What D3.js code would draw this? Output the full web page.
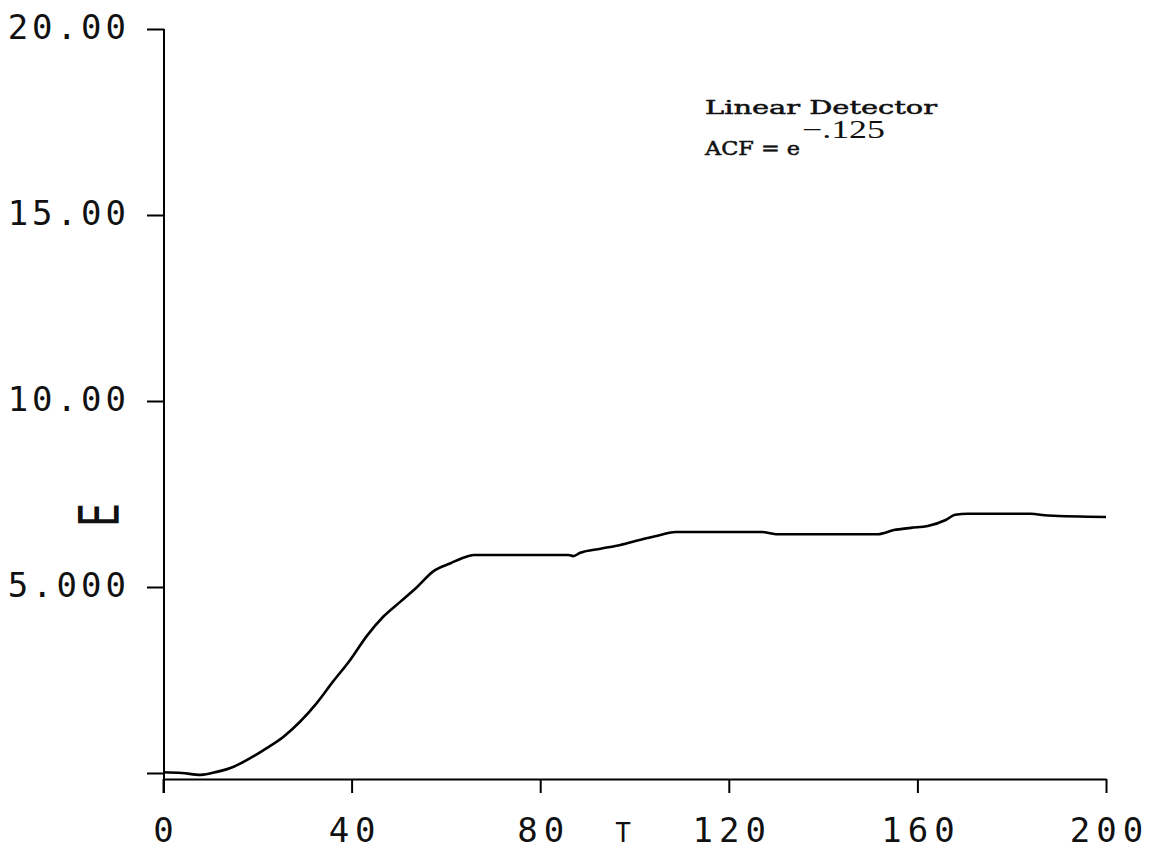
<!DOCTYPE html>
<html>
<head>
<meta charset="utf-8">
<script src="https://cdn.jsdelivr.net/npm/d3@7"></script>
<style>
  html, body { margin: 0; padding: 0; background: #fff; }
  svg { display: block; }
</style>
</head>
<body>
<svg id="chart" width="1155" height="849"></svg>
<script>
// ---- data ----
const tValues = [0, 4, 8, 11.4, 15, 18.5, 22, 25.5, 29, 32.6, 36, 39.7, 43.2, 46.7, 50.3, 53.9, 57.3, 61, 64.5, 66,
                 86, 87, 88.5, 92.8, 97, 101.3, 105.5, 108.7, 124.6, 127, 130, 151.6, 155, 158.6, 162.2, 166, 168, 170.7, 184, 187.7, 200];
const eValues = [0.02, 0.0, -0.05, 0.03, 0.17, 0.4, 0.67, 0.97, 1.37, 1.88, 2.45, 3.04, 3.68, 4.2, 4.6, 5.0, 5.42, 5.64, 5.82, 5.86,
                 5.86, 5.83, 5.92, 6.03, 6.13, 6.27, 6.4, 6.48, 6.48, 6.48, 6.42, 6.42, 6.53, 6.59, 6.64, 6.8, 6.94, 6.97, 6.97, 6.92, 6.88];
const xTicks = [0, 40, 80, 120, 160, 200];
const xTickLabels = ["0", "40", "80", "120", "160", "200"];
const yTicks = [0, 5, 10, 15, 20];
const yTickLabels = ["", "5.000", "10.00", "15.00", "20.00"];
const xTitle = "T";
const yTitle = "E";
const noteLine1 = "Linear Detector";
const noteLine2 = "ACF = e";
const noteSup = "\u2212.125";

// ---- layout ----
const svg = d3.select("#chart");
const x = d3.scaleLinear().domain([0, 200]).range([163, 1106]);
const y = d3.scaleLinear().domain([0, 20]).range([773, 29]);
const xAxisY = 779;
const numFont = "'DejaVu Sans Mono', monospace";

// y axis
const yAxis = d3.axisLeft(y).tickValues(yTicks)
  .tickFormat((d, i) => yTickLabels[i]).tickSize(17).tickSizeOuter(0).tickPadding(17);
const gy = svg.append("g").attr("transform", `translate(${x(0) + 1},0)`).call(yAxis);
gy.select(".domain").remove();
gy.selectAll(".tick line").attr("stroke", "#000").attr("stroke-width", 2);
gy.selectAll(".tick text")
  .attr("font-family", numFont).attr("font-size", 34).attr("letter-spacing", 4)
  .attr("fill", "#111").attr("dy", "0.27em");
svg.append("line")
  .attr("x1", x(0) + 1).attr("x2", x(0) + 1)
  .attr("y1", y(20)).attr("y2", xAxisY + 14)
  .attr("stroke", "#000").attr("stroke-width", 2);

// x axis
const xAxis = d3.axisBottom(x).tickValues(xTicks)
  .tickFormat((d, i) => xTickLabels[i]).tickSize(14).tickSizeOuter(0);
const gx = svg.append("g").attr("transform", `translate(0,${xAxisY})`).call(xAxis);
gx.select(".domain").attr("stroke", "#000").attr("stroke-width", 2);
gx.selectAll(".tick line").attr("stroke", "#000").attr("stroke-width", 2);
gx.selectAll(".tick text")
  .attr("font-family", numFont).attr("font-size", 34).attr("letter-spacing", 6)
  .attr("fill", "#111").attr("y", 63).attr("dy", 0).attr("dx", 3);

// axis titles
svg.append("text")
  .attr("x", 623).attr("y", 842)
  .attr("text-anchor", "middle")
  .attr("font-family", numFont).attr("font-size", 26).attr("fill", "#111")
  .text(xTitle);
svg.append("text")
  .attr("transform", "translate(118,515) rotate(-90) scale(1,1.4)")
  .attr("text-anchor", "middle")
  .attr("font-family", numFont).attr("font-size", 40).attr("fill", "#111")
  .text(yTitle);

// curve
const line = d3.line()
  .x((d, i) => x(tValues[i]))
  .y(d => y(d))
  .curve(d3.curveMonotoneX);
svg.append("path")
  .datum(eValues)
  .attr("d", line)
  .attr("fill", "none")
  .attr("stroke", "#000")
  .attr("stroke-width", 2.6)
  .attr("stroke-linejoin", "round");

// annotation
svg.append("text")
  .attr("x", 705).attr("y", 114)
  .attr("font-family", "'DejaVu Serif', serif")
  .attr("font-size", 19)
  .attr("stroke", "#111").attr("stroke-width", 0.5)
  .attr("textLength", 232).attr("lengthAdjust", "spacingAndGlyphs")
  .attr("fill", "#111")
  .text(noteLine1);
svg.append("text")
  .attr("x", 705).attr("y", 155)
  .attr("font-family", "'DejaVu Serif', serif")
  .attr("font-size", 19)
  .attr("stroke", "#111").attr("stroke-width", 0.5)
  .attr("textLength", 95).attr("lengthAdjust", "spacingAndGlyphs")
  .attr("fill", "#111")
  .text(noteLine2);
svg.append("text")
  .attr("x", 802).attr("y", 138)
  .attr("font-family", "'Liberation Serif', 'Times New Roman', serif")
  .attr("font-size", 25)
  .attr("textLength", 83).attr("lengthAdjust", "spacingAndGlyphs")
  .attr("fill", "#111")
  .text(noteSup);
</script>
</body>
</html>
